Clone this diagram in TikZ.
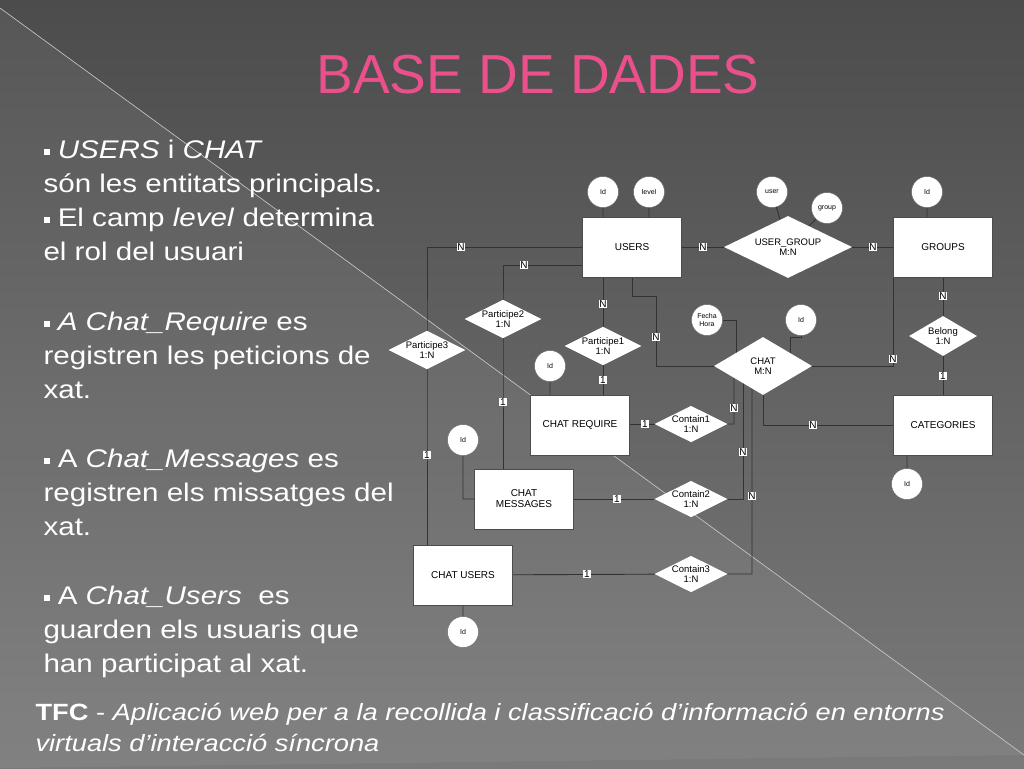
\documentclass[tikz,border=0pt]{standalone}
\usepackage{fontspec}
\setmainfont{Liberation Sans}[FakeStretch=1.16]
\newfontfamily\dfont{Liberation Sans}
\newfontfamily\tfont{Liberation Sans}
\usetikzlibrary{shapes.geometric,backgrounds}
\pgfdeclarelayer{lines}
\pgfsetlayers{background,lines,main}
\definecolor{bgtop}{HTML}{4C4C4C}
\definecolor{bgbot}{HTML}{7A7A7A}
\definecolor{pinkt}{HTML}{E9508C}
\newcommand{\bul}{\rule[3pt]{6pt}{6pt}\ }
\begin{document}
\begin{tikzpicture}[x=1pt,y=-1pt,
  ent/.style={draw=black!70,fill=white,minimum width=99pt,minimum height=60pt,inner sep=1pt,font=\dfont\fontsize{10}{11}\selectfont,align=center},
  rel/.style={diamond,fill=white,aspect=2,inner sep=0pt,font=\dfont\fontsize{9.5}{10.5}\selectfont,align=center},
  att/.style={circle,fill=white,draw=black!60,minimum size=31pt,inner sep=0pt,font=\dfont\fontsize{7}{8}\selectfont,align=center},
  card/.style={fill=white,inner sep=0.8pt,font=\dfont\fontsize{10}{10}\selectfont},
  ln/.style={draw=black!80,line width=0.9pt},
  txt/.style={text=white,anchor=base west,font=\fontsize{25.5}{30}\selectfont}]
\useasboundingbox (0,0) rectangle (1024,768);
\begin{pgfonlayer}{background}
\shade[top color=bgtop,bottom color=bgbot] (0,0) rectangle (1024,768);
\fill[white,opacity=0.06] (0,8) -- (1024,755) -- (0,768) -- cycle;
\draw[white!60!gray,line width=0.6pt] (0,8) -- (1024,755);
\end{pgfonlayer}
\node[text=pinkt,font=\tfont\fontsize{55}{55}\selectfont] (title) at (538,75) {BASE DE DADES};
% left text
\node[txt] (t1) at (40,158) {\bul\itshape USERS \upshape i \itshape CHAT};
\node[txt] (t2) at (40,192) {són les entitats principals.};
\node[txt] (t3) at (40,226) {\bul El camp \textit{level} determina};
\node[txt] (t4) at (40,260) {el rol del usuari};
\node[txt] (t5) at (40,330) {\bul\textit{A Chat\_Require} es};
\node[txt] (t6) at (40,364) {registren les peticions de};
\node[txt] (t7) at (40,398) {xat.};
\node[txt] (t8) at (40,467) {\bul A \textit{Chat\_Messages} es};
\node[txt] (t9) at (40,501) {registren els missatges del};
\node[txt] (t10) at (40,535) {xat.};
\node[txt] (t11) at (40,604) {\bul A \textit{Chat\_Users}\ \ es};
\node[txt] (t12) at (40,638) {guarden els usuaris que};
\node[txt] (t13) at (40,672) {han participat al xat.};
\node[txt,font=\fontsize{23.5}{26}\selectfont] (f1) at (32,720) {\textbf{TFC} - \textit{Aplicació web per a la recollida i classificació d’informació en entorns}};
\node[txt,font=\fontsize{23.5}{26}\selectfont] (f2) at (32,751) {\textit{virtuals d’interacció síncrona}};
% entities
\node[ent] (users) at (632,247) {USERS};
\node[ent] (groups) at (943,247) {GROUPS};
\node[ent] (cats) at (943,425) {CATEGORIES};
\node[ent] (creq) at (580,425) {CHAT REQUIRE};
\node[ent] (cmsg) at (524,499) {CHAT\\MESSAGES};
\node[ent] (cusr) at (463,575) {CHAT USERS};
% relations
\node[rel,minimum width=128pt,minimum height=62pt] (ug) at (788,247) {USER\_GROUP\\M:N};
\node[rel,minimum width=68pt,minimum height=40pt] (bel) at (943,336) {Belong\\1:N};
\node[rel,minimum width=98pt,minimum height=58pt] (chat) at (763,366) {CHAT\\M:N};
\node[rel,minimum width=70pt,minimum height=32pt] (p1) at (603,346) {Participe1\\1:N};
\node[rel,minimum width=70pt,minimum height=32pt] (p2) at (503,319) {Participe2\\1:N};
\node[rel,minimum width=68pt,minimum height=32pt] (p3) at (427,350) {Participe3\\1:N};
\node[rel,minimum width=60pt,minimum height=32pt] (c1) at (691,424) {Contain1\\1:N};
\node[rel,minimum width=60pt,minimum height=32pt] (c2) at (691,499) {Contain2\\1:N};
\node[rel,minimum width=60pt,minimum height=32pt] (c3) at (691,574) {Contain3\\1:N};
% attributes
\node[att] (uid) at (603,192) {Id};
\node[att] (ulev) at (649,192) {level};
\node[att] (guser) at (772,192) {user};
\node[att] (ggrp) at (827,208) {group};
\node[att] (gid) at (927,192) {Id};
\node[att] (catid) at (907,484) {Id};
\node[att] (fh) at (707,320) {Fecha\\Hora};
\node[att] (chid) at (801,320) {Id};
\node[att] (crid) at (550,366) {Id};
\node[att] (cmid) at (463,440) {Id};
\node[att] (cuid) at (463,632) {Id};
\begin{pgfonlayer}{lines}
\path[ln] (uid) -- (603,247) (ulev) -- (649,247) (guser) -- (ug.center) (ggrp) -- (ug.center)
  (gid) -- (927,247) (catid) -- (907,425) (crid) -- (550,425) (cuid) -- (463,575)
  (cmid) |- (cmsg);
\path[ln] (fh) -| (736,366);
\path[ln] (chid.south) |- (790,337) -- (790,366);
\path[ln] (users.west) -| (p3.center) -- (427,575);
\path[ln] (583,265) -| (p2.center) -- (503,499);
\path[ln] (603,260) -- (p1.center) -- (603,425);
\path[ln] (632,260) |- (656,296) |- (chat.center);
\path[ln] (users) -- (ug) -- (groups);
\path[ln] (groups) -- (bel) -- (cats);
\path[ln] (893,260) |- (chat.center);
\path[ln] (chat.center) |- (cats.center);
\path[ln] (creq) -- (c1) -| (734,366);
\path[ln] (cmsg) -- (c2) -| (743,366);
\path[ln] (cusr) -- (c3) -| (752,366);
\end{pgfonlayer}
% cardinalities
\node[card] (n1) at (461,247) {N};
\node[card] (n2) at (427,455) {1};
\node[card] (n3) at (524,265) {N};
\node[card] (n4) at (503,402) {1};
\node[card] (n5) at (603,304) {N};
\node[card] (n6) at (603,380) {1};
\node[card] (n7) at (656,337) {N};
\node[card] (n8) at (703,247) {N};
\node[card] (n9) at (873,247) {N};
\node[card] (n10) at (943,296) {N};
\node[card] (n11) at (943,376) {1};
\node[card] (n12) at (893,359) {N};
\node[card] (n13) at (813,425) {N};
\node[card] (n14) at (645,424) {1};
\node[card] (n15) at (734,408) {N};
\node[card] (n16) at (617,499) {1};
\node[card] (n17) at (743,452) {N};
\node[card] (n18) at (587,574) {1};
\node[card] (n19) at (752,496) {N};
\end{tikzpicture}
\end{document}
